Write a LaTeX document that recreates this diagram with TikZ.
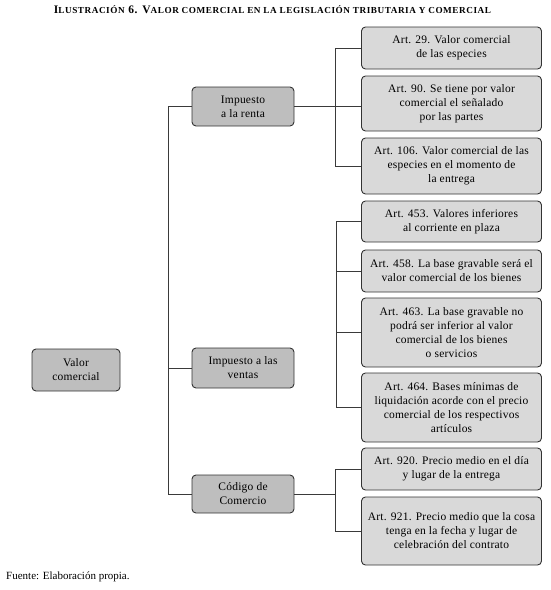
\documentclass[tikz,border=0pt]{standalone}
\usepackage{fontspec}
\setmainfont{Liberation Serif}
\newfontfamily\boxfont[LetterSpace=2]{Liberation Serif}
\newfontfamily\titlefont[LetterSpace=6]{Liberation Serif}
\definecolor{boxdark}{HTML}{BEBEBE}
\definecolor{boxlight}{HTML}{D9D9D9}
\definecolor{edge}{HTML}{333333}
\definecolor{conn}{HTML}{3A3A3A}
\newcommand{\sck}[1]{{\fontsize{9.2}{10}\selectfont #1}}
\begin{document}
\begin{tikzpicture}[x=1pt,y=-1pt,
  box/.style={draw=edge,line width=0.9pt,rounded corners=4pt,align=center,
    inner sep=1pt,font=\boxfont\fontsize{11.5}{14}\selectfont},
  lvtwo/.style={box,fill=boxdark,minimum width=102pt},
  lvthree/.style={box,fill=boxlight,minimum width=180pt},
  cline/.style={draw=conn,line width=0.75pt}]
\useasboundingbox (0,0) rectangle (550,590);
% title
\node[font=\titlefont\bfseries\fontsize{11.5}{12}\selectfont,inner sep=0pt] (title) at (272.5,10)
 {I\sck{LUSTRACIÓN} 6. V\sck{ALOR COMERCIAL EN LA LEGISLACIÓN TRIBUTARIA Y COMERCIAL}};
% root
\node[box,fill=boxdark,minimum width=88pt,minimum height=42pt] (valor) at (76,370) {Valor\\comercial};
% level 2
\node[lvtwo,minimum height=39pt] (renta) at (243,106.5) {Impuesto\\a la renta};
\node[lvtwo,minimum height=40pt] (ventas) at (243,368) {Impuesto a las\\ventas};
\node[lvtwo,minimum height=38pt] (codigo) at (243,494) {Código de\\Comercio};
% level 3
\node[lvthree,minimum height=42pt] (a29) at (451.5,48) {Art. 29. Valor comercial\\de las especies};
\node[lvthree,minimum height=55pt] (a90) at (451.5,103.5) {Art. 90. Se tiene por valor\\comercial el señalado\\por las partes};
\node[lvthree,minimum height=56pt] (a106) at (451.5,166) {Art. 106. Valor comercial de las\\especies en el momento de\\la entrega};
\node[lvthree,minimum height=41pt] (a453) at (451.5,221.5) {Art. 453. Valores inferiores\\al corriente en plaza};
\node[lvthree,minimum height=42pt] (a458) at (451.5,271) {Art. 458. La base gravable será el\\valor comercial de los bienes};
\node[lvthree,minimum height=69pt] (a463) at (451.5,332.5) {Art. 463. La base gravable no\\podrá ser inferior al valor\\comercial de los bienes\\o servicios};
\node[lvthree,minimum height=69pt] (a464) at (451.5,407.5) {Art. 464. Bases mínimas de\\liquidación acorde con el precio\\comercial de los respectivos\\artículos};
\node[lvthree,minimum height=42pt] (a920) at (451.5,469) {Art. 920. Precio medio en el día\\y lugar de la entrega};
\node[lvthree,minimum height=68pt] (a921) at (451.5,531) {Art. 921. Precio medio que la cosa\\tenga en la fecha y lugar de\\celebración del contrato};
% trunks
\coordinate (mt) at (168,0);
\coordinate (rt) at (335,0);
\coordinate (vt) at (336,0);
\coordinate (ct) at (335,0);
\draw[cline] (renta.west) -- (renta.west -| mt) -- (codigo.west -| mt) -- (codigo.west);
\draw[cline] (ventas.west -| mt) -- (ventas.west);
\draw[cline] (renta.east) -- (renta.east -| a90.west);
\draw[cline] (a29.west) -- (a29.west -| rt) -- (a106.west -| rt) -- (a106.west);
\draw[cline] (a453.west) -- (a453.west -| vt) -- (a464.west -| vt) -- (a464.west);
\draw[cline] (a458.west -| vt) -- (a458.west);
\draw[cline] (a463.west -| vt) -- (a463.west);
\draw[cline] (codigo.east) -- (codigo.east -| ct);
\draw[cline] (a920.west) -- (a920.west -| ct) -- (a921.west -| ct) -- (a921.west);
% source
\node[anchor=west,font=\fontsize{11}{12}\selectfont,inner sep=0pt] (fuente) at (6,577) {Fuente: Elaboración propia.};
\end{tikzpicture}
\end{document}
